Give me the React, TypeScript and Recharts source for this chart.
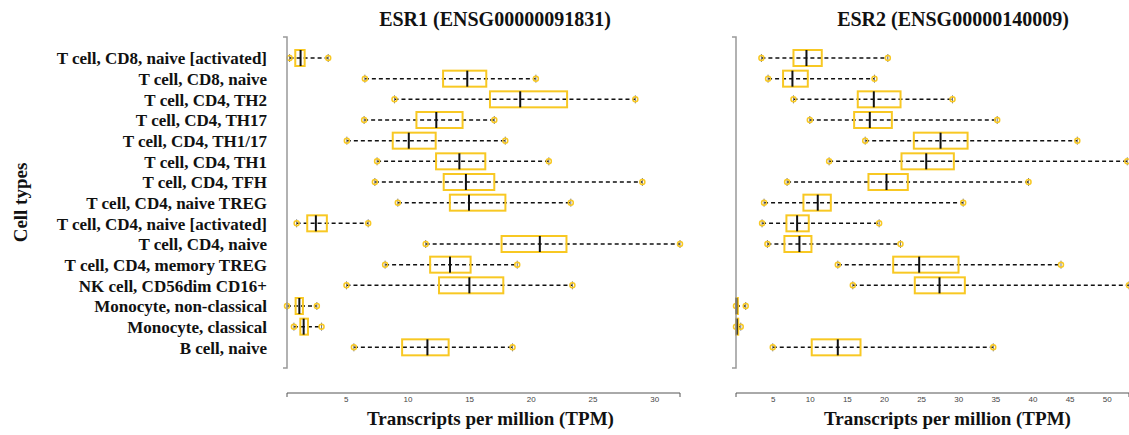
import { ComposedChart, Bar, XAxis, YAxis, Label, ReferenceLine } from "recharts";

// Cell types, top to bottom
const CELL_TYPES = [
  "T cell, CD8, naive [activated]",
  "T cell, CD8, naive",
  "T cell, CD4, TH2",
  "T cell, CD4, TH17",
  "T cell, CD4, TH1/17",
  "T cell, CD4, TH1",
  "T cell, CD4, TFH",
  "T cell, CD4, naive TREG",
  "T cell, CD4, naive [activated]",
  "T cell, CD4, naive",
  "T cell, CD4, memory TREG",
  "NK cell, CD56dim CD16+",
  "Monocyte, non-classical",
  "Monocyte, classical",
  "B cell, naive",
];

// ESR1 boxplot stats (TPM)
const ESR1_MIN = [0.41, 6.51, 8.91, 6.45, 5.05, 7.5, 7.32, 9.18, 0.98, 11.44, 8.15, 5.02, 0.2, 0.76, 5.62];
const ESR1_Q1 = [0.87, 12.85, 16.65, 10.69, 8.77, 12.28, 12.9, 13.4, 1.84, 17.59, 11.8, 12.52, 0.9, 1.28, 9.53];
const ESR1_MED = [1.3, 14.81, 19.1, 12.3, 10.07, 14.17, 14.7, 14.95, 2.54, 20.69, 13.41, 14.98, 1.2, 1.55, 11.58];
const ESR1_Q3 = [1.63, 16.35, 22.9, 14.43, 12.25, 16.27, 17.0, 17.9, 3.43, 22.85, 15.08, 17.73, 1.49, 1.9, 13.3];
const ESR1_MAX = [3.54, 20.37, 28.43, 17.0, 17.89, 21.42, 29.0, 23.2, 6.78, 32.05, 18.86, 23.33, 2.62, 3.0, 18.48];

// ESR2 boxplot stats (TPM)
const ESR2_MIN = [3.42, 4.32, 7.74, 9.94, 17.4, 12.54, 6.88, 3.78, 3.51, 4.23, 13.71, 15.73, 0.0, 0.0, 4.95];
const ESR2_Q1 = [7.74, 6.34, 16.4, 15.91, 23.95, 22.29, 17.84, 9.08, 6.79, 6.52, 21.17, 24.08, 0.0, 0.0, 10.2];
const ESR2_MED = [9.49, 7.6, 18.56, 18.02, 27.55, 25.62, 20.27, 11.01, 8.23, 8.54, 24.67, 27.41, 0.05, 0.1, 13.71];
const ESR2_Q3 = [11.55, 9.67, 22.16, 20.99, 31.19, 29.34, 23.14, 12.77, 9.8, 10.16, 29.97, 30.82, 0.25, 0.3, 16.77];
const ESR2_MAX = [20.45, 18.65, 29.16, 35.18, 45.97, 52.7, 39.4, 30.6, 19.28, 22.15, 43.77, 52.93, 1.31, 0.64, 34.65];

const ESR1_TICKS = [5, 10, 15, 20, 25, 30];
const ESR2_TICKS = [5, 10, 15, 20, 25, 30, 35, 40, 45, 50];
const ESR1_DOMAIN = [0.2, 32.05];
const ESR2_DOMAIN = [0, 52.93];

const GOLD = "#F8C823";
const SERIF = "'Liberation Serif', 'Times New Roman', serif";
const SANS = "'Liberation Sans', Arial, sans-serif";
const BAR = 16;

const buildRows = (mins, q1s, meds, q3s, maxs) =>
  CELL_TYPES.map((cell, i) => ({
    cell,
    whisker: [mins[i], maxs[i]],
    box: [q1s[i], q3s[i]],
    median: meds[i],
    q1: q1s[i],
    q3: q3s[i],
  }));

const esr1Rows = buildRows(ESR1_MIN, ESR1_Q1, ESR1_MED, ESR1_Q3, ESR1_MAX);
const esr2Rows = buildRows(ESR2_MIN, ESR2_Q1, ESR2_MED, ESR2_Q3, ESR2_MAX);

// dashed whisker with staple + gold point at each end
const WhiskerShape = (props: any) => {
  const { x, y, width, height } = props;
  const cy = y + height / 2;
  return (
    <g>
      <line x1={x} x2={x + width} y1={cy} y2={cy} stroke="#111" strokeWidth={1.5} strokeDasharray="4 3" />
      {[x, x + width].map((px, i) => (
        <g key={i}>
          <line x1={px} x2={px} y1={cy - 4} y2={cy + 4} stroke="#777" strokeWidth={1} />
          <circle cx={px} cy={cy} r={2.5} fill="none" stroke={GOLD} strokeWidth={1.5} />
        </g>
      ))}
    </g>
  );
};

// box outline + median (median placed on the same linear scale as the box edges)
const BoxShape = (props: any) => {
  const { x, y, width, height, payload } = props;
  const span = payload.q3 - payload.q1;
  const mx = span > 0 ? x + (width * (payload.median - payload.q1)) / span : x;
  return (
    <g>
      <rect x={x} y={y} width={width} height={height} fill="none" stroke={GOLD} strokeWidth={2} />
      <line x1={mx} x2={mx} y1={y} y2={y + height} stroke="#111" strokeWidth={2} />
    </g>
  );
};

// left axis line with the small end ticks R draws
const YAxisLine = (p: any) => {
  const { x1, y1, y2 } = p;
  return (
    <path
      d={`M${x1 - 4},${y1} H${x1} V${y2} H${x1 - 4}`}
      fill="none"
      stroke="#999"
      strokeWidth={1.5}
    />
  );
};

const renderXTick = (p: any, labels: number[]) => {
  const { x, y, payload } = p;
  if (!labels.includes(payload.value)) {
    return <line x1={x} x2={x} y1={y} y2={y + 4} stroke="#555" strokeWidth={1} />;
  }
  return (
    <text x={x} y={y + 3} dy="0.71em" textAnchor="middle" fontSize={8} fill="#444" fontFamily={SANS}>
      {payload.value}
    </text>
  );
};

type PanelProps = {
  rows: any[];
  domain: number[];
  ticks: number[];
  width: number;
  yWidth: number;
  marginRight: number;
  showCells: boolean;
  labelDx: number;
};

function Panel({ rows, domain, ticks, width, yWidth, marginRight, showCells, labelDx }: PanelProps) {
  return (
    <ComposedChart
      layout="vertical"
      width={width}
      height={435}
      data={rows}
      margin={{ top: 37, right: marginRight, bottom: 0, left: 0 }}
      barGap={-BAR}
    >
      <XAxis
        xAxisId="b"
        type="number"
        domain={domain}
        ticks={[domain[0], ...ticks, domain[1]]}
        interval={0}
        height={42}
        axisLine={{ stroke: "#555", strokeWidth: 1 }}
        tickLine={false}
        tickSize={0}
        tickMargin={0}
        tick={(p: any) => renderXTick(p, ticks)}
      >
        <Label
          content={({ viewBox }: any) => (
            <text
              x={viewBox.x + viewBox.width / 2 + labelDx}
              y={viewBox.y + viewBox.height - 10}
              textAnchor="middle"
              fontFamily={SERIF}
              fontSize={19}
              fontWeight="bold"
              fill="#111"
            >
              Transcripts per million (TPM)
            </text>
          )}
        />
      </XAxis>
      {/* spacer axis: pushes the visible axis below the plot like R does */}
      <XAxis xAxisId="a" type="number" domain={domain} height={25} axisLine={false} tickLine={false} tick={false} />
      <YAxis
        type="category"
        dataKey="cell"
        width={yWidth}
        interval={0}
        padding={{ top: 11, bottom: 10 }}
        axisLine={false}
        tickLine={false}
        tickSize={0}
        tickMargin={20}
        tick={
          showCells
            ? { fontFamily: SERIF, fontSize: 17, fontWeight: "bold", fill: "#111" }
            : false
        }
      >
        {showCells && (
          <Label
            content={({ viewBox }: any) => {
              const cy = viewBox.y + viewBox.height / 2;
              return (
                <text
                  x={27}
                  y={cy}
                  transform={`rotate(-90, 27, ${cy})`}
                  textAnchor="middle"
                  fontFamily={SERIF}
                  fontSize={19}
                  fontWeight="bold"
                  fill="#111"
                >
                  Cell types
                </text>
              );
            }}
          />
        )}
      </YAxis>
      <ReferenceLine xAxisId="b" x={domain[0]} shape={(p: any) => <YAxisLine {...p} />} />
      <Bar xAxisId="b" dataKey="whisker" barSize={BAR} shape={(p: any) => <WhiskerShape {...p} />} isAnimationActive={false} />
      <Bar xAxisId="b" dataKey="box" barSize={BAR} shape={(p: any) => <BoxShape {...p} />} isAnimationActive={false} />
    </ComposedChart>
  );
}

const titleStyle = (center: number) => ({
  position: "absolute" as const,
  left: center - 200,
  width: 400,
  top: 9,
  textAlign: "center" as const,
  fontFamily: SERIF,
  fontSize: 20,
  lineHeight: "20px",
  fontWeight: "bold" as const,
  color: "#111",
});

export default function App() {
  return (
    <div style={{ position: "absolute", left: 0, top: 0, width: 1129, height: 435, background: "#fff", overflow: "hidden" }}>
      <div style={titleStyle(495)}>ESR1 (ENSG00000091831)</div>
      <div style={titleStyle(953)}>ESR2 (ENSG00000140009)</div>
      <div style={{ position: "absolute", left: 0, top: 0 }}>
        <Panel rows={esr1Rows} domain={ESR1_DOMAIN} ticks={ESR1_TICKS} width={700} yWidth={287} marginRight={20} showCells labelDx={7} />
      </div>
      <div style={{ position: "absolute", left: 700, top: 0 }}>
        <Panel rows={esr2Rows} domain={ESR2_DOMAIN} ticks={ESR2_TICKS} width={429} yWidth={36} marginRight={0} showCells={false} labelDx={15} />
      </div>
    </div>
  );
}
